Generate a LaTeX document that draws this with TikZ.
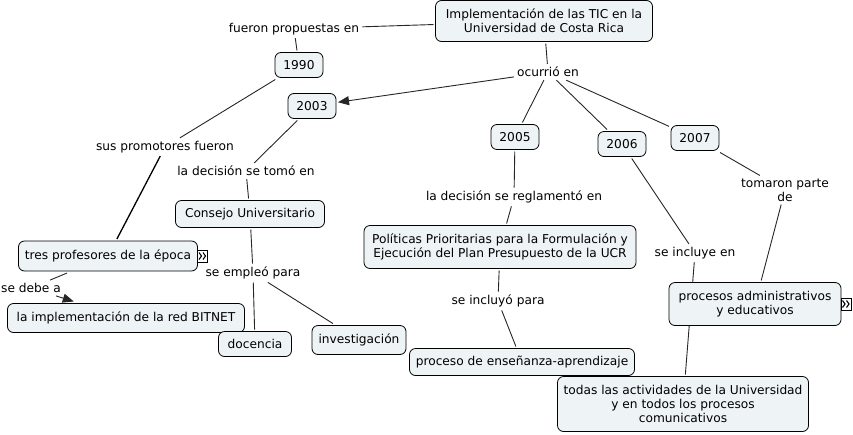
\documentclass[tikz,border=0pt]{standalone}
\usepackage{fontspec}
\setmainfont{DejaVu Sans}
\usetikzlibrary{arrows.meta,backgrounds}
\definecolor{cmapfill}{RGB}{238,243,245}
\tikzset{
	concept/.style={draw=black, fill=cmapfill, rounded corners=6pt, align=center, inner sep=2pt, outer sep=2pt, line width=0.8pt, font={\fontsize{12.2}{14}\selectfont}},
	phrase/.style={align=center, inner xsep=3pt, inner ysep=3pt, font={\fontsize{12.2}{14}\selectfont}},
	link/.style={draw=black!85, line width=0.9pt},
	linkarrow/.style={link, -{Triangle[length=11pt,width=9pt]}},
	more/.style={draw=black, fill=white, line width=0.7pt, minimum width=10pt, minimum height=12pt, inner sep=0pt, outer sep=0pt,
		path picture={
			\draw[line width=1.1pt] ([xshift=-3.5pt,yshift=3.5pt]path picture bounding box.center) -- ++(2.5pt,-3.5pt) -- ++(-2.5pt,-3.5pt);
			\draw[line width=1.1pt] ([xshift=0.5pt,yshift=3.5pt]path picture bounding box.center) -- ++(2.5pt,-3.5pt) -- ++(-2.5pt,-3.5pt);
		}}
}

\begin{document}
\begin{tikzpicture}[x=1pt, y=-1pt]
		%%%%% START %%%%%
		\useasboundingbox (0, 0) rectangle (853, 434);
		
		\node[concept, minimum width=217pt, minimum height=41pt] (main) at (544, 21) {Implementación de las TIC en la\\Universidad de Costa Rica};
		
		\node[concept, minimum width=48pt, minimum height=25pt] (y1990) at (299, 65) {1990};
		\node[concept, minimum width=48pt, minimum height=25pt] (y2003) at (312, 106) {2003};
		\node[concept, minimum width=48pt, minimum height=25pt] (y2005) at (515, 137) {2005};
		\node[concept, minimum width=48pt, minimum height=25pt] (y2006) at (622, 144) {2006};
		\node[concept, minimum width=48pt, minimum height=25pt] (y2007) at (695, 138) {2007};
		
		\node[concept, minimum width=149pt, minimum height=27pt] (consejo) at (250, 214) {Consejo Universitario};
		\node[concept, minimum width=179pt, minimum height=30pt] (tres) at (108, 256) {tres profesores de la época};
		\node[concept, minimum width=237pt, minimum height=29pt] (bitnet) at (126, 318) {la implementación de la red BITNET};
		\node[concept, minimum width=73pt, minimum height=25pt] (docencia) at (255, 344) {docencia};
		\node[concept, minimum width=94pt, minimum height=29pt] (investigacion) at (359, 340) {investigación};
		\node[concept, minimum width=272pt, minimum height=43pt] (politicas) at (500, 247) {Políticas Prioritarias para la Formulación y\\Ejecución del Plan Presupuesto de la UCR};
		\node[concept, minimum width=225pt, minimum height=27pt] (proceso) at (522, 362) {proceso de enseñanza-aprendizaje};
		\node[concept, minimum width=172pt, minimum height=43pt] (procesos) at (755, 304) {procesos administrativos\\y educativos};
		\node[concept, minimum width=251pt, minimum height=55pt] (todas) at (683, 404) {todas las actividades de la Universidad\\y en todos los procesos\\comunicativos};
		
		\node[more, anchor=west] (tresmore) at ([xshift=-2pt]tres.east) {};
		\node[more, anchor=west] (procesosmore) at ([xshift=-2pt]procesos.east) {};
		
		\node[phrase] (propuestas) at (294, 29) {fueron propuestas en};
		\node[phrase] (ocurrio) at (548, 72) {ocurrió en};
		\node[phrase] (promotores) at (165, 147) {sus promotores fueron};
		\node[phrase] (tomo) at (246, 171) {la decisión se tomó en};
		\node[phrase] (reglamento) at (514, 197) {la decisión se reglamentó en};
		\node[phrase] (tomaron) at (785, 190) {tomaron parte\\de};
		\node[phrase] (debe) at (31, 288) {se debe a};
		\node[phrase] (empleo) at (253, 273) {se empleó para};
		\node[phrase] (incluyo) at (498, 301) {se incluyó para};
		\node[phrase] (incluye) at (695, 253) {se incluye en};
		
		\begin{scope}[on background layer]
			\draw[link] (main) -- (propuestas);
			\draw[link] (propuestas) -- (y1990);
			\draw[link] (y1990) -- (promotores);
			\draw[link, line width=1.3pt, draw=black] (promotores) -- (tres);
			\draw[link] (tres) -- (debe);
			\draw[linkarrow] (debe) -- (bitnet);
			
			\draw[link] (main) -- (ocurrio);
			\draw[linkarrow] (ocurrio) -- (y2003);
			\draw[link] (ocurrio) -- (y2005);
			\draw[link] (ocurrio) -- (y2006);
			\draw[link] (ocurrio) -- (y2007);
			
			\draw[link] (y2003) -- (tomo);
			\draw[link] (tomo) -- (consejo);
			\draw[link] (consejo) -- (empleo);
			\draw[link] (empleo) -- (docencia);
			\draw[link] (empleo) -- (investigacion);
			
			\draw[link] (y2005) -- (reglamento);
			\draw[link] (reglamento) -- (politicas);
			\draw[link] (politicas) -- (incluyo);
			\draw[link] (incluyo) -- (proceso);
			
			\draw[link] (y2006) -- (incluye);
			\draw[link] (incluye) -- (todas);
			\draw[link] (y2007) -- (tomaron);
			\draw[link] (tomaron) -- (procesos);
		\end{scope}
		
		%%%%% END %%%%%
	\end{tikzpicture}
\end{document}
